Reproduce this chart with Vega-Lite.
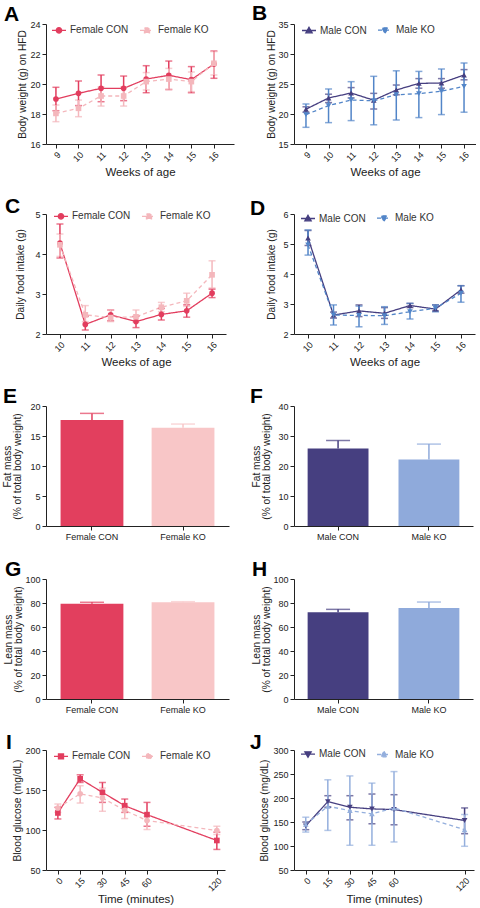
{
"$schema": "https://vega.github.io/schema/vega-lite/v6.json",
"padding": {"left": 2, "top": 3, "right": 0, "bottom": 0},
"background": "white",
"config": {
  "font": "Liberation Sans",
  "view": {"stroke": null},
  "axis": {"grid": false, "domainColor": "#222", "tickColor": "#222", "labelColor": "#222", "titleColor": "#222", "labelFontSize": 9, "titleFontSize": 10.2, "titleFontWeight": "normal", "tickSize": 4, "labelPadding": 2, "titlePadding": 3, "titleLineHeight": 10.5},
  "axisX": {"titleFontSize": 11.5},
  "legend": {"direction": "horizontal", "padding": 0, "labelFontSize": 10, "labelColor": "#333", "symbolSize": 196, "columnPadding": 8, "labelOffset": 3, "symbolStrokeWidth": 1.3},
  "title": {"fontSize": 21, "fontWeight": "bold", "anchor": "start", "frame": "group", "baseline": "alphabetic", "color": "#000"}
},
"datasets": {
  "A": [
    {"group": "Female CON", "week": 9, "mean": 19.0, "lo": 18.22, "hi": 19.78},
    {"group": "Female CON", "week": 10, "mean": 19.38, "lo": 18.56, "hi": 20.2},
    {"group": "Female CON", "week": 11, "mean": 19.71, "lo": 18.82, "hi": 20.6},
    {"group": "Female CON", "week": 12, "mean": 19.71, "lo": 18.89, "hi": 20.53},
    {"group": "Female CON", "week": 13, "mean": 20.33, "lo": 19.42, "hi": 21.22},
    {"group": "Female CON", "week": 14, "mean": 20.58, "lo": 19.63, "hi": 21.53},
    {"group": "Female CON", "week": 15, "mean": 20.29, "lo": 19.42, "hi": 21.16},
    {"group": "Female CON", "week": 16, "mean": 21.33, "lo": 20.38, "hi": 22.2},
    {"group": "Female KO", "week": 9, "mean": 18.04, "lo": 17.49, "hi": 18.6},
    {"group": "Female KO", "week": 10, "mean": 18.38, "lo": 17.82, "hi": 18.93},
    {"group": "Female KO", "week": 11, "mean": 19.2, "lo": 18.53, "hi": 19.8},
    {"group": "Female KO", "week": 12, "mean": 19.2, "lo": 18.53, "hi": 19.8},
    {"group": "Female KO", "week": 13, "mean": 20.16, "lo": 19.6, "hi": 20.76},
    {"group": "Female KO", "week": 14, "mean": 20.33, "lo": 19.64, "hi": 21.04},
    {"group": "Female KO", "week": 15, "mean": 20.16, "lo": 19.49, "hi": 20.8},
    {"group": "Female KO", "week": 16, "mean": 21.38, "lo": 20.6, "hi": 22.16}
  ],
  "B": [
    {"group": "Male CON", "week": 9, "mean": 20.8, "lo": 20.3, "hi": 21.2},
    {"group": "Male CON", "week": 10, "mean": 22.67, "lo": 21.9, "hi": 23.3},
    {"group": "Male CON", "week": 11, "mean": 23.5, "lo": 22.67, "hi": 24.4},
    {"group": "Male CON", "week": 12, "mean": 22.3, "lo": 20.83, "hi": 23.44},
    {"group": "Male CON", "week": 13, "mean": 24.0, "lo": 23.2, "hi": 24.83},
    {"group": "Male CON", "week": 14, "mean": 25.1, "lo": 24.3, "hi": 25.9},
    {"group": "Male CON", "week": 15, "mean": 25.17, "lo": 24.3, "hi": 25.9},
    {"group": "Male CON", "week": 16, "mean": 26.5, "lo": 25.7, "hi": 27.4},
    {"group": "Male KO", "week": 9, "mean": 19.9, "lo": 17.78, "hi": 21.67},
    {"group": "Male KO", "week": 10, "mean": 21.4, "lo": 18.56, "hi": 24.17},
    {"group": "Male KO", "week": 11, "mean": 22.33, "lo": 18.9, "hi": 25.39},
    {"group": "Male KO", "week": 12, "mean": 22.2, "lo": 18.2, "hi": 26.28},
    {"group": "Male KO", "week": 13, "mean": 23.2, "lo": 19.0, "hi": 27.2},
    {"group": "Male KO", "week": 14, "mean": 23.4, "lo": 19.4, "hi": 27.1},
    {"group": "Male KO", "week": 15, "mean": 23.8, "lo": 19.9, "hi": 27.5},
    {"group": "Male KO", "week": 16, "mean": 24.6, "lo": 20.3, "hi": 28.5}
  ],
  "C": [
    {"group": "Female CON", "week": 10, "mean": 4.27, "lo": 3.9, "hi": 4.75},
    {"group": "Female CON", "week": 11, "mean": 2.24, "lo": 2.1, "hi": 2.44},
    {"group": "Female CON", "week": 12, "mean": 2.48, "lo": 2.33, "hi": 2.6},
    {"group": "Female CON", "week": 13, "mean": 2.31, "lo": 2.16, "hi": 2.44},
    {"group": "Female CON", "week": 14, "mean": 2.49, "lo": 2.35, "hi": 2.64},
    {"group": "Female CON", "week": 15, "mean": 2.58, "lo": 2.42, "hi": 2.73},
    {"group": "Female CON", "week": 16, "mean": 3.02, "lo": 2.91, "hi": 3.12},
    {"group": "Female KO", "week": 10, "mean": 4.23, "lo": 3.94, "hi": 4.5},
    {"group": "Female KO", "week": 11, "mean": 2.48, "lo": 2.31, "hi": 2.71},
    {"group": "Female KO", "week": 12, "mean": 2.41, "lo": 2.31, "hi": 2.6},
    {"group": "Female KO", "week": 13, "mean": 2.43, "lo": 2.29, "hi": 2.6},
    {"group": "Female KO", "week": 14, "mean": 2.67, "lo": 2.56, "hi": 2.79},
    {"group": "Female KO", "week": 15, "mean": 2.83, "lo": 2.69, "hi": 3.02},
    {"group": "Female KO", "week": 16, "mean": 3.48, "lo": 3.15, "hi": 3.83}
  ],
  "D": [
    {"group": "Male CON", "week": 10, "mean": 5.2, "lo": 4.95, "hi": 5.45},
    {"group": "Male CON", "week": 11, "mean": 2.63, "lo": 2.53, "hi": 2.73},
    {"group": "Male CON", "week": 12, "mean": 2.77, "lo": 2.58, "hi": 2.97},
    {"group": "Male CON", "week": 13, "mean": 2.69, "lo": 2.52, "hi": 2.88},
    {"group": "Male CON", "week": 14, "mean": 2.95, "lo": 2.88, "hi": 3.02},
    {"group": "Male CON", "week": 15, "mean": 2.83, "lo": 2.77, "hi": 2.97},
    {"group": "Male CON", "week": 16, "mean": 3.47, "lo": 3.36, "hi": 3.61},
    {"group": "Male KO", "week": 10, "mean": 4.97, "lo": 4.63, "hi": 5.47},
    {"group": "Male KO", "week": 11, "mean": 2.63, "lo": 2.3, "hi": 2.97},
    {"group": "Male KO", "week": 12, "mean": 2.62, "lo": 2.24, "hi": 2.93},
    {"group": "Male KO", "week": 13, "mean": 2.61, "lo": 2.32, "hi": 2.91},
    {"group": "Male KO", "week": 14, "mean": 2.74, "lo": 2.5, "hi": 3.02},
    {"group": "Male KO", "week": 15, "mean": 2.86, "lo": 2.74, "hi": 2.97},
    {"group": "Male KO", "week": 16, "mean": 3.36, "lo": 3.06, "hi": 3.61}
  ],
  "E": [
    {"group": "Female CON", "mean": 17.66, "hi": 18.77},
    {"group": "Female KO", "mean": 16.38, "hi": 16.99}
  ],
  "F": [
    {"group": "Male CON", "mean": 25.85, "hi": 28.5},
    {"group": "Male KO", "mean": 22.17, "hi": 27.3}
  ],
  "G": [
    {"group": "Female CON", "mean": 79.4, "hi": 80.6},
    {"group": "Female KO", "mean": 80.6, "hi": 81.1}
  ],
  "H": [
    {"group": "Male CON", "mean": 72.2, "hi": 74.7},
    {"group": "Male KO", "mean": 75.8, "hi": 80.8}
  ],
  "I": [
    {"group": "Female CON", "time": 0, "mean": 121.3, "lo": 113.8, "hi": 128.3},
    {"group": "Female CON", "time": 15, "mean": 164, "lo": 159.4, "hi": 169},
    {"group": "Female CON", "time": 30, "mean": 147, "lo": 134.5, "hi": 159.4},
    {"group": "Female CON", "time": 45, "mean": 130.4, "lo": 122, "hi": 138.7},
    {"group": "Female CON", "time": 60, "mean": 119.2, "lo": 104.7, "hi": 134.5},
    {"group": "Female CON", "time": 120, "mean": 86.9, "lo": 75.7, "hi": 97.3},
    {"group": "Female KO", "time": 0, "mean": 127.5, "lo": 122, "hi": 132.5},
    {"group": "Female KO", "time": 15, "mean": 145.3, "lo": 133.7, "hi": 155.3},
    {"group": "Female KO", "time": 30, "mean": 140, "lo": 123.4, "hi": 152.4},
    {"group": "Female KO", "time": 45, "mean": 124.6, "lo": 114.3, "hi": 130.4},
    {"group": "Female KO", "time": 60, "mean": 111.8, "lo": 100.6, "hi": 117.2},
    {"group": "Female KO", "time": 120, "mean": 99.3, "lo": 94.4, "hi": 104.7}
  ],
  "J": [
    {"group": "Male CON", "time": 0, "mean": 142, "lo": 134, "hi": 150},
    {"group": "Male CON", "time": 15, "mean": 192.4, "lo": 180.7, "hi": 204.8},
    {"group": "Male CON", "time": 30, "mean": 180.7, "lo": 154.5, "hi": 204.8},
    {"group": "Male CON", "time": 45, "mean": 177.3, "lo": 146.3, "hi": 208.3},
    {"group": "Male CON", "time": 60, "mean": 175.9, "lo": 144.2, "hi": 206.9},
    {"group": "Male CON", "time": 120, "mean": 153.2, "lo": 125.6, "hi": 179.3},
    {"group": "Male KO", "time": 0, "mean": 145, "lo": 129, "hi": 160},
    {"group": "Male KO", "time": 15, "mean": 182.8, "lo": 132.5, "hi": 237.9},
    {"group": "Male KO", "time": 30, "mean": 173.8, "lo": 101.5, "hi": 246},
    {"group": "Male KO", "time": 45, "mean": 167, "lo": 101.5, "hi": 231},
    {"group": "Male KO", "time": 60, "mean": 179.3, "lo": 108.4, "hi": 255},
    {"group": "Male KO", "time": 120, "mean": 133.9, "lo": 99.4, "hi": 165.6}
  ]
},
"columns": 2,
"spacing": {"row": 18, "column": 16},
"align": {"row": "each", "column": "each"},
"bounds": "full",
"resolve": {"scale": {"color": "independent", "fill": "independent", "stroke": "independent", "shape": "independent", "strokeDash": "independent", "x": "independent", "y": "independent"}},
"concat": [
  {
    "width": 188, "height": 120,
    "title": {"text": "A", "dx": -42, "offset": -5},
    "data": {"name": "A"},
    "encoding": {
      "x": {"field": "week", "type": "quantitative", "title": "Weeks of age", "scale": {"domain": [8.56, 16.89], "nice": false, "zero": false}, "axis": {"values": [9, 10, 11, 12, 13, 14, 15, 16], "labelAngle": -45}},
      "y": {"field": "mean", "type": "quantitative", "title": "Body weight (g) on HFD", "scale": {"domain": [16, 24], "nice": false, "zero": false}, "axis": {"values": [16, 18, 20, 22, 24], "titlePadding": 2}},
      "color": {"field": "group", "type": "nominal", "scale": {"domain": ["Female KO", "Female CON"], "range": ["#F4B7BC", "#E23D5E"]}, "legend": null}
    },
    "layer": [
      {"mark": {"type": "line", "strokeWidth": 1.3}, "encoding": {
        "strokeDash": {"field": "group", "type": "nominal", "scale": {"domain": ["Female CON", "Female KO"], "range": [[1, 0], [4, 3]]}, "legend": {"title": null, "orient": "none", "legendX": 5, "legendY": -2, "symbolSize": 196, "symbolFillColor": "#000", "symbolStrokeColor": "#000", "symbolOpacity": 1}}}},
      {"mark": {"type": "errorbar", "ticks": true, "size": 7, "thickness": 1.5}, "encoding": {
        "y": {"field": "lo", "type": "quantitative", "title": "Body weight (g) on HFD", "axis": {"values": [16, 18, 20, 22, 24], "titlePadding": 2}}, "y2": {"field": "hi"}}},
      {"transform": [{"filter": "datum.group === 'Female CON'"}], "mark": {"type": "point", "filled": true, "size": 32, "opacity": 1, "shape": "circle"}},
      {"transform": [{"filter": "datum.group === 'Female KO'"}], "mark": {"type": "point", "filled": true, "size": 32, "opacity": 1, "shape": "square"}},
      {"mark": {"type": "point", "filled": true, "size": 0}, "encoding": {
        "fill": {"field": "group", "type": "nominal", "scale": {"domain": ["Female CON", "Female KO"], "range": ["#E23D5E", "#F4B7BC"]}, "legend": {"title": null, "orient": "none", "legendX": 5, "legendY": -2, "symbolSize": 196, "symbolFillColor": "#000", "symbolStrokeColor": "#000", "symbolOpacity": 1}},
        "stroke": {"field": "group", "type": "nominal", "scale": {"domain": ["Female CON", "Female KO"], "range": ["#E23D5E", "#F4B7BC"]}, "legend": {"title": null, "orient": "none", "legendX": 5, "legendY": -2, "symbolSize": 196, "symbolFillColor": "#000", "symbolStrokeColor": "#000", "symbolOpacity": 1}},
        "shape": {"field": "group", "type": "nominal", "scale": {"domain": ["Female CON", "Female KO"], "range": ["M-1,0H1M-0.38,0A0.38,0.38,0,1,1,0.38,0A0.38,0.38,0,1,1,-0.38,0Z", "M-1,0H1M-0.36,-0.36H0.36V0.36H-0.36Z"]}, "legend": {"title": null, "orient": "none", "legendX": 5, "legendY": -2, "symbolSize": 196, "symbolFillColor": "#000", "symbolStrokeColor": "#000", "symbolOpacity": 1}},
        "strokeDash": {"field": "group", "type": "nominal", "scale": {"domain": ["Female CON", "Female KO"], "range": [[1, 0], [4, 3]]}, "legend": {"title": null, "orient": "none", "legendX": 5, "legendY": -2, "symbolSize": 196, "symbolFillColor": "#000", "symbolStrokeColor": "#000", "symbolOpacity": 1}}}}
    ]
  },
  {
    "width": 182, "height": 120,
    "title": {"text": "B", "dx": -42, "offset": -4},
    "data": {"name": "B"},
    "encoding": {
      "x": {"field": "week", "type": "quantitative", "title": "Weeks of age", "scale": {"domain": [8.47, 16.53], "nice": false, "zero": false}, "axis": {"values": [9, 10, 11, 12, 13, 14, 15, 16], "labelAngle": -45}},
      "y": {"field": "mean", "type": "quantitative", "title": "Body weight (g) on HFD", "scale": {"domain": [15, 35], "nice": false, "zero": false}, "axis": {"values": [15, 20, 25, 30, 35], "titlePadding": 1}},
      "color": {"field": "group", "type": "nominal", "scale": {"domain": ["Male KO", "Male CON"], "range": ["#5285C8", "#463F80"]}, "legend": null}
    },
    "layer": [
      {"mark": {"type": "line", "strokeWidth": 1.3}, "encoding": {
        "strokeDash": {"field": "group", "type": "nominal", "scale": {"domain": ["Male CON", "Male KO"], "range": [[1, 0], [4, 3]]}, "legend": {"title": null, "orient": "none", "legendX": 7, "legendY": -2, "symbolSize": 196, "symbolFillColor": "#000", "symbolStrokeColor": "#000", "symbolOpacity": 1}}}},
      {"mark": {"type": "errorbar", "ticks": true, "size": 7, "thickness": 1.5}, "encoding": {
        "y": {"field": "lo", "type": "quantitative", "title": "Body weight (g) on HFD", "axis": {"values": [15, 20, 25, 30, 35], "titlePadding": 1}}, "y2": {"field": "hi"}}},
      {"transform": [{"filter": "datum.group === 'Male CON'"}], "mark": {"type": "point", "filled": true, "size": 32, "opacity": 1, "shape": "triangle-up"}},
      {"transform": [{"filter": "datum.group === 'Male KO'"}], "mark": {"type": "point", "filled": true, "size": 32, "opacity": 1, "shape": "triangle-down"}},
      {"mark": {"type": "point", "filled": true, "size": 0}, "encoding": {
        "fill": {"field": "group", "type": "nominal", "scale": {"domain": ["Male CON", "Male KO"], "range": ["#463F80", "#5285C8"]}, "legend": {"title": null, "orient": "none", "legendX": 7, "legendY": -2, "symbolSize": 196, "symbolFillColor": "#000", "symbolStrokeColor": "#000", "symbolOpacity": 1}},
        "stroke": {"field": "group", "type": "nominal", "scale": {"domain": ["Male CON", "Male KO"], "range": ["#463F80", "#5285C8"]}, "legend": {"title": null, "orient": "none", "legendX": 7, "legendY": -2, "symbolSize": 196, "symbolFillColor": "#000", "symbolStrokeColor": "#000", "symbolOpacity": 1}},
        "shape": {"field": "group", "type": "nominal", "scale": {"domain": ["Male CON", "Male KO"], "range": ["M-1,0H1M0,-0.45L0.45,0.33H-0.45Z", "M-1,0H1M0,0.45L0.45,-0.33H-0.45Z"]}, "legend": {"title": null, "orient": "none", "legendX": 7, "legendY": -2, "symbolSize": 196, "symbolFillColor": "#000", "symbolStrokeColor": "#000", "symbolOpacity": 1}},
        "strokeDash": {"field": "group", "type": "nominal", "scale": {"domain": ["Male CON", "Male KO"], "range": [[1, 0], [4, 3]]}, "legend": {"title": null, "orient": "none", "legendX": 7, "legendY": -2, "symbolSize": 196, "symbolFillColor": "#000", "symbolStrokeColor": "#000", "symbolOpacity": 1}}}}
    ]
  },
  {
    "width": 180, "height": 120,
    "title": {"text": "C", "dx": -41, "offset": -9},
    "data": {"name": "C"},
    "encoding": {
      "x": {"field": "week", "type": "quantitative", "title": "Weeks of age", "scale": {"domain": [9.45, 16.55], "nice": false, "zero": false}, "axis": {"values": [10, 11, 12, 13, 14, 15, 16], "labelAngle": -45}},
      "y": {"field": "mean", "type": "quantitative", "title": "Daily food intake (g)", "scale": {"domain": [2, 5], "nice": false, "zero": false}, "axis": {"values": [2, 3, 4, 5], "titlePadding": 9}},
      "color": {"field": "group", "type": "nominal", "scale": {"domain": ["Female KO", "Female CON"], "range": ["#F4B7BC", "#E23D5E"]}, "legend": null}
    },
    "layer": [
      {"mark": {"type": "line", "strokeWidth": 1.3}, "encoding": {
        "strokeDash": {"field": "group", "type": "nominal", "scale": {"domain": ["Female CON", "Female KO"], "range": [[1, 0], [4, 3]]}, "legend": {"title": null, "orient": "none", "legendX": 7, "legendY": -6, "symbolSize": 196, "symbolFillColor": "#000", "symbolStrokeColor": "#000", "symbolOpacity": 1}}}},
      {"mark": {"type": "errorbar", "ticks": true, "size": 7, "thickness": 1.5}, "encoding": {
        "y": {"field": "lo", "type": "quantitative", "title": "Daily food intake (g)", "axis": {"values": [2, 3, 4, 5], "titlePadding": 9}}, "y2": {"field": "hi"}}},
      {"transform": [{"filter": "datum.group === 'Female CON'"}], "mark": {"type": "point", "filled": true, "size": 32, "opacity": 1, "shape": "circle"}},
      {"transform": [{"filter": "datum.group === 'Female KO'"}], "mark": {"type": "point", "filled": true, "size": 32, "opacity": 1, "shape": "square"}},
      {"mark": {"type": "point", "filled": true, "size": 0}, "encoding": {
        "fill": {"field": "group", "type": "nominal", "scale": {"domain": ["Female CON", "Female KO"], "range": ["#E23D5E", "#F4B7BC"]}, "legend": {"title": null, "orient": "none", "legendX": 7, "legendY": -6, "symbolSize": 196, "symbolFillColor": "#000", "symbolStrokeColor": "#000", "symbolOpacity": 1}},
        "stroke": {"field": "group", "type": "nominal", "scale": {"domain": ["Female CON", "Female KO"], "range": ["#E23D5E", "#F4B7BC"]}, "legend": {"title": null, "orient": "none", "legendX": 7, "legendY": -6, "symbolSize": 196, "symbolFillColor": "#000", "symbolStrokeColor": "#000", "symbolOpacity": 1}},
        "shape": {"field": "group", "type": "nominal", "scale": {"domain": ["Female CON", "Female KO"], "range": ["M-1,0H1M-0.38,0A0.38,0.38,0,1,1,0.38,0A0.38,0.38,0,1,1,-0.38,0Z", "M-1,0H1M-0.36,-0.36H0.36V0.36H-0.36Z"]}, "legend": {"title": null, "orient": "none", "legendX": 7, "legendY": -6, "symbolSize": 196, "symbolFillColor": "#000", "symbolStrokeColor": "#000", "symbolOpacity": 1}},
        "strokeDash": {"field": "group", "type": "nominal", "scale": {"domain": ["Female CON", "Female KO"], "range": [[1, 0], [4, 3]]}, "legend": {"title": null, "orient": "none", "legendX": 7, "legendY": -6, "symbolSize": 196, "symbolFillColor": "#000", "symbolStrokeColor": "#000", "symbolOpacity": 1}}}}
    ]
  },
  {
    "width": 181, "height": 120,
    "title": {"text": "D", "dx": -44, "offset": -9},
    "data": {"name": "D"},
    "encoding": {
      "x": {"field": "week", "type": "quantitative", "title": "Weeks of age", "scale": {"domain": [9.45, 16.55], "nice": false, "zero": false}, "axis": {"values": [10, 11, 12, 13, 14, 15, 16], "labelAngle": -45}},
      "y": {"field": "mean", "type": "quantitative", "title": "Daily food intake (g)", "scale": {"domain": [2, 6], "nice": false, "zero": false}, "axis": {"values": [2, 3, 4, 5, 6], "titlePadding": 6}},
      "color": {"field": "group", "type": "nominal", "scale": {"domain": ["Male KO", "Male CON"], "range": ["#5285C8", "#463F80"]}, "legend": null}
    },
    "layer": [
      {"mark": {"type": "line", "strokeWidth": 1.3}, "encoding": {
        "strokeDash": {"field": "group", "type": "nominal", "scale": {"domain": ["Male CON", "Male KO"], "range": [[1, 0], [4, 3]]}, "legend": {"title": null, "orient": "none", "legendX": 6, "legendY": -4, "symbolSize": 196, "symbolFillColor": "#000", "symbolStrokeColor": "#000", "symbolOpacity": 1}}}},
      {"mark": {"type": "errorbar", "ticks": true, "size": 7, "thickness": 1.5}, "encoding": {
        "y": {"field": "lo", "type": "quantitative", "title": "Daily food intake (g)", "axis": {"values": [2, 3, 4, 5, 6], "titlePadding": 6}}, "y2": {"field": "hi"}}},
      {"transform": [{"filter": "datum.group === 'Male CON'"}], "mark": {"type": "point", "filled": true, "size": 32, "opacity": 1, "shape": "triangle-up"}},
      {"transform": [{"filter": "datum.group === 'Male KO'"}], "mark": {"type": "point", "filled": true, "size": 32, "opacity": 1, "shape": "triangle-down"}},
      {"mark": {"type": "point", "filled": true, "size": 0}, "encoding": {
        "fill": {"field": "group", "type": "nominal", "scale": {"domain": ["Male CON", "Male KO"], "range": ["#463F80", "#5285C8"]}, "legend": {"title": null, "orient": "none", "legendX": 6, "legendY": -4, "symbolSize": 196, "symbolFillColor": "#000", "symbolStrokeColor": "#000", "symbolOpacity": 1}},
        "stroke": {"field": "group", "type": "nominal", "scale": {"domain": ["Male CON", "Male KO"], "range": ["#463F80", "#5285C8"]}, "legend": {"title": null, "orient": "none", "legendX": 6, "legendY": -4, "symbolSize": 196, "symbolFillColor": "#000", "symbolStrokeColor": "#000", "symbolOpacity": 1}},
        "shape": {"field": "group", "type": "nominal", "scale": {"domain": ["Male CON", "Male KO"], "range": ["M-1,0H1M0,-0.45L0.45,0.33H-0.45Z", "M-1,0H1M0,0.45L0.45,-0.33H-0.45Z"]}, "legend": {"title": null, "orient": "none", "legendX": 6, "legendY": -4, "symbolSize": 196, "symbolFillColor": "#000", "symbolStrokeColor": "#000", "symbolOpacity": 1}},
        "strokeDash": {"field": "group", "type": "nominal", "scale": {"domain": ["Male CON", "Male KO"], "range": [[1, 0], [4, 3]]}, "legend": {"title": null, "orient": "none", "legendX": 6, "legendY": -4, "symbolSize": 196, "symbolFillColor": "#000", "symbolStrokeColor": "#000", "symbolOpacity": 1}}}}
    ]
  },
  {
    "width": 183, "height": 120,
    "title": {"text": "E", "dx": -43, "offset": -5},
    "data": {"name": "E"},
    "encoding": {
      "x": {"field": "group", "type": "nominal", "title": null, "sort": null, "scale": {"paddingInner": 0.31, "paddingOuter": 0.16}, "axis": {"labelAngle": 0}},
      "color": {"field": "group", "type": "nominal", "scale": {"domain": ["Female CON", "Female KO"], "range": ["#E23F5E", "#F8C6C7"]}, "legend": null}
    },
    "layer": [
      {"mark": {"type": "bar"}, "encoding": {"y": {"field": "mean", "type": "quantitative", "title": ["Fat mass", "(% of total body weight)"], "scale": {"domain": [0, 20], "nice": false}, "axis": {"values": [0, 5, 10, 15, 20], "titlePadding": 7}}}},
      {"mark": {"type": "rule", "strokeWidth": 1.5}, "encoding": {"y": {"field": "mean", "type": "quantitative", "title": ["Fat mass", "(% of total body weight)"], "axis": {"values": [0, 5, 10, 15, 20], "titlePadding": 7}}, "y2": {"field": "hi"}}},
      {"mark": {"type": "tick", "thickness": 1.5, "size": 24}, "encoding": {"y": {"field": "hi", "type": "quantitative", "title": ["Fat mass", "(% of total body weight)"], "axis": {"values": [0, 5, 10, 15, 20], "titlePadding": 7}}}}
    ]
  },
  {
    "width": 179, "height": 120,
    "title": {"text": "F", "dx": -44, "offset": -5},
    "data": {"name": "F"},
    "encoding": {
      "x": {"field": "group", "type": "nominal", "title": null, "sort": null, "scale": {"paddingInner": 0.33, "paddingOuter": 0.15}, "axis": {"labelAngle": 0}},
      "color": {"field": "group", "type": "nominal", "scale": {"domain": ["Male CON", "Male KO"], "range": ["#463F80", "#8FAADB"]}, "legend": null}
    },
    "layer": [
      {"mark": {"type": "bar"}, "encoding": {"y": {"field": "mean", "type": "quantitative", "title": ["Fat mass", "(% of total body weight)"], "scale": {"domain": [0, 40], "nice": false}, "axis": {"values": [0, 10, 20, 30, 40], "titlePadding": 6}}}},
      {"mark": {"type": "rule", "strokeWidth": 1.5}, "encoding": {"y": {"field": "mean", "type": "quantitative", "title": ["Fat mass", "(% of total body weight)"], "axis": {"values": [0, 10, 20, 30, 40], "titlePadding": 6}}, "y2": {"field": "hi"}}},
      {"mark": {"type": "tick", "thickness": 1.5, "size": 24}, "encoding": {"y": {"field": "hi", "type": "quantitative", "title": ["Fat mass", "(% of total body weight)"], "axis": {"values": [0, 10, 20, 30, 40], "titlePadding": 6}}}}
    ]
  },
  {
    "width": 183, "height": 120,
    "title": {"text": "G", "dx": -41, "offset": -5},
    "data": {"name": "G"},
    "encoding": {
      "x": {"field": "group", "type": "nominal", "title": null, "sort": null, "scale": {"paddingInner": 0.31, "paddingOuter": 0.16}, "axis": {"labelAngle": 0}},
      "color": {"field": "group", "type": "nominal", "scale": {"domain": ["Female CON", "Female KO"], "range": ["#E23F5E", "#F8C6C7"]}, "legend": null}
    },
    "layer": [
      {"mark": {"type": "bar"}, "encoding": {"y": {"field": "mean", "type": "quantitative", "title": ["Lean mass", "(% of total body weight)"], "scale": {"domain": [0, 100], "nice": false}, "axis": {"values": [0, 20, 40, 60, 80, 100], "titlePadding": 1}}}},
      {"mark": {"type": "rule", "strokeWidth": 1.5}, "encoding": {"y": {"field": "mean", "type": "quantitative", "title": ["Lean mass", "(% of total body weight)"], "axis": {"values": [0, 20, 40, 60, 80, 100], "titlePadding": 1}}, "y2": {"field": "hi"}}},
      {"mark": {"type": "tick", "thickness": 1.5, "size": 24}, "encoding": {"y": {"field": "hi", "type": "quantitative", "title": ["Lean mass", "(% of total body weight)"], "axis": {"values": [0, 20, 40, 60, 80, 100], "titlePadding": 1}}}}
    ]
  },
  {
    "width": 179, "height": 120,
    "title": {"text": "H", "dx": -42, "offset": -5},
    "data": {"name": "H"},
    "encoding": {
      "x": {"field": "group", "type": "nominal", "title": null, "sort": null, "scale": {"paddingInner": 0.33, "paddingOuter": 0.15}, "axis": {"labelAngle": 0}},
      "color": {"field": "group", "type": "nominal", "scale": {"domain": ["Male CON", "Male KO"], "range": ["#463F80", "#8FAADB"]}, "legend": null}
    },
    "layer": [
      {"mark": {"type": "bar"}, "encoding": {"y": {"field": "mean", "type": "quantitative", "title": ["Lean mass", "(% of total body weight)"], "scale": {"domain": [0, 100], "nice": false}, "axis": {"values": [0, 20, 40, 60, 80, 100], "titlePadding": 1}}}},
      {"mark": {"type": "rule", "strokeWidth": 1.5}, "encoding": {"y": {"field": "mean", "type": "quantitative", "title": ["Lean mass", "(% of total body weight)"], "axis": {"values": [0, 20, 40, 60, 80, 100], "titlePadding": 1}}, "y2": {"field": "hi"}}},
      {"mark": {"type": "tick", "thickness": 1.5, "size": 24}, "encoding": {"y": {"field": "hi", "type": "quantitative", "title": ["Lean mass", "(% of total body weight)"], "axis": {"values": [0, 20, 40, 60, 80, 100], "titlePadding": 1}}}}
    ]
  },
  {
    "width": 179, "height": 120,
    "title": {"text": "I", "dx": -40, "offset": -7},
    "data": {"name": "I"},
    "encoding": {
      "x": {"field": "time", "type": "quantitative", "title": "Time (minutes)", "scale": {"domain": [-8, 60, 127], "range": [0, 101, 179], "nice": false, "zero": false}, "axis": {"values": [0, 15, 30, 45, 60, 120], "labelAngle": -45, "titlePadding": 1}},
      "y": {"field": "mean", "type": "quantitative", "title": "Blood glucose (mg/dL)", "scale": {"domain": [50, 200], "nice": false, "zero": false}, "axis": {"values": [50, 100, 150, 200], "titlePadding": 2}},
      "color": {"field": "group", "type": "nominal", "scale": {"domain": ["Female KO", "Female CON"], "range": ["#F4B7BC", "#E23D5E"]}, "legend": null}
    },
    "layer": [
      {"mark": {"type": "line", "strokeWidth": 1.3}, "encoding": {
        "strokeDash": {"field": "group", "type": "nominal", "scale": {"domain": ["Female CON", "Female KO"], "range": [[1, 0], [4, 3]]}, "legend": {"title": null, "orient": "none", "legendX": 7, "legendY": -2, "symbolSize": 196, "symbolFillColor": "#000", "symbolStrokeColor": "#000", "symbolOpacity": 1}}}},
      {"mark": {"type": "errorbar", "ticks": true, "size": 7, "thickness": 1.5}, "encoding": {
        "y": {"field": "lo", "type": "quantitative", "title": "Blood glucose (mg/dL)", "axis": {"values": [50, 100, 150, 200], "titlePadding": 2}}, "y2": {"field": "hi"}}},
      {"transform": [{"filter": "datum.group === 'Female CON'"}], "mark": {"type": "point", "filled": true, "size": 32, "opacity": 1, "shape": "square"}},
      {"transform": [{"filter": "datum.group === 'Female KO'"}], "mark": {"type": "point", "filled": true, "size": 32, "opacity": 1, "shape": "circle"}},
      {"mark": {"type": "point", "filled": true, "size": 0}, "encoding": {
        "fill": {"field": "group", "type": "nominal", "scale": {"domain": ["Female CON", "Female KO"], "range": ["#E23D5E", "#F4B7BC"]}, "legend": {"title": null, "orient": "none", "legendX": 7, "legendY": -2, "symbolSize": 196, "symbolFillColor": "#000", "symbolStrokeColor": "#000", "symbolOpacity": 1}},
        "stroke": {"field": "group", "type": "nominal", "scale": {"domain": ["Female CON", "Female KO"], "range": ["#E23D5E", "#F4B7BC"]}, "legend": {"title": null, "orient": "none", "legendX": 7, "legendY": -2, "symbolSize": 196, "symbolFillColor": "#000", "symbolStrokeColor": "#000", "symbolOpacity": 1}},
        "shape": {"field": "group", "type": "nominal", "scale": {"domain": ["Female CON", "Female KO"], "range": ["M-1,0H1M-0.36,-0.36H0.36V0.36H-0.36Z", "M-1,0H1M-0.38,0A0.38,0.38,0,1,1,0.38,0A0.38,0.38,0,1,1,-0.38,0Z"]}, "legend": {"title": null, "orient": "none", "legendX": 7, "legendY": -2, "symbolSize": 196, "symbolFillColor": "#000", "symbolStrokeColor": "#000", "symbolOpacity": 1}},
        "strokeDash": {"field": "group", "type": "nominal", "scale": {"domain": ["Female CON", "Female KO"], "range": [[1, 0], [4, 3]]}, "legend": {"title": null, "orient": "none", "legendX": 7, "legendY": -2, "symbolSize": 196, "symbolFillColor": "#000", "symbolStrokeColor": "#000", "symbolOpacity": 1}}}}
    ]
  },
  {
    "width": 180, "height": 120,
    "title": {"text": "J", "dx": -44, "offset": -7},
    "data": {"name": "J"},
    "encoding": {
      "x": {"field": "time", "type": "quantitative", "title": "Time (minutes)", "scale": {"domain": [-8, 60, 128], "range": [0, 100, 180], "nice": false, "zero": false}, "axis": {"values": [0, 15, 30, 45, 60, 120], "labelAngle": -45, "titlePadding": 1}},
      "y": {"field": "mean", "type": "quantitative", "title": "Blood glucose (mg/dL)", "scale": {"domain": [50, 300], "nice": false, "zero": false}, "axis": {"values": [50, 100, 150, 200, 250, 300], "titlePadding": 3}},
      "color": {"field": "group", "type": "nominal", "scale": {"domain": ["Male KO", "Male CON"], "range": ["#94AFDD", "#463F80"]}, "legend": null}
    },
    "layer": [
      {"mark": {"type": "line", "strokeWidth": 1.3}, "encoding": {
        "strokeDash": {"field": "group", "type": "nominal", "scale": {"domain": ["Male CON", "Male KO"], "range": [[1, 0], [4, 3]]}, "legend": {"title": null, "orient": "none", "legendX": 6, "legendY": -4, "symbolSize": 196, "symbolFillColor": "#000", "symbolStrokeColor": "#000", "symbolOpacity": 1}}}},
      {"mark": {"type": "errorbar", "ticks": true, "size": 7, "thickness": 1.5}, "encoding": {
        "y": {"field": "lo", "type": "quantitative", "title": "Blood glucose (mg/dL)", "axis": {"values": [50, 100, 150, 200, 250, 300], "titlePadding": 3}}, "y2": {"field": "hi"}}},
      {"transform": [{"filter": "datum.group === 'Male CON'"}], "mark": {"type": "point", "filled": true, "size": 32, "opacity": 1, "shape": "triangle-down"}},
      {"transform": [{"filter": "datum.group === 'Male KO'"}], "mark": {"type": "point", "filled": true, "size": 32, "opacity": 1, "shape": "triangle-up"}},
      {"mark": {"type": "point", "filled": true, "size": 0}, "encoding": {
        "fill": {"field": "group", "type": "nominal", "scale": {"domain": ["Male CON", "Male KO"], "range": ["#463F80", "#94AFDD"]}, "legend": {"title": null, "orient": "none", "legendX": 6, "legendY": -4, "symbolSize": 196, "symbolFillColor": "#000", "symbolStrokeColor": "#000", "symbolOpacity": 1}},
        "stroke": {"field": "group", "type": "nominal", "scale": {"domain": ["Male CON", "Male KO"], "range": ["#463F80", "#94AFDD"]}, "legend": {"title": null, "orient": "none", "legendX": 6, "legendY": -4, "symbolSize": 196, "symbolFillColor": "#000", "symbolStrokeColor": "#000", "symbolOpacity": 1}},
        "shape": {"field": "group", "type": "nominal", "scale": {"domain": ["Male CON", "Male KO"], "range": ["M-1,0H1M0,0.45L0.45,-0.33H-0.45Z", "M-1,0H1M0,-0.45L0.45,0.33H-0.45Z"]}, "legend": {"title": null, "orient": "none", "legendX": 6, "legendY": -4, "symbolSize": 196, "symbolFillColor": "#000", "symbolStrokeColor": "#000", "symbolOpacity": 1}},
        "strokeDash": {"field": "group", "type": "nominal", "scale": {"domain": ["Male CON", "Male KO"], "range": [[1, 0], [4, 3]]}, "legend": {"title": null, "orient": "none", "legendX": 6, "legendY": -4, "symbolSize": 196, "symbolFillColor": "#000", "symbolStrokeColor": "#000", "symbolOpacity": 1}}}}
    ]
  }
]
}
